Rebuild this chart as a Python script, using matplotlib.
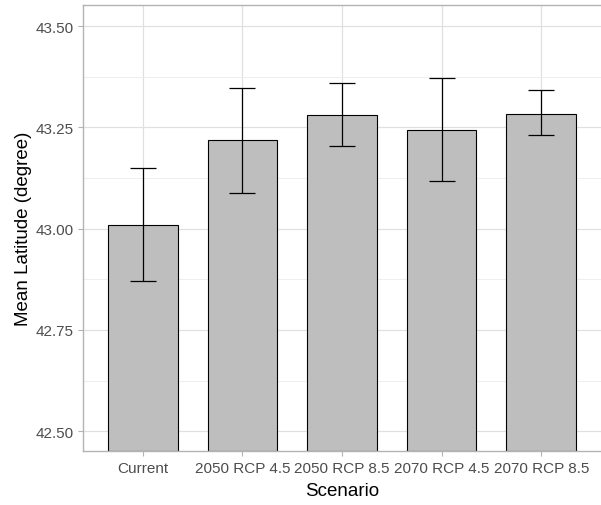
import matplotlib.pyplot as plt
import numpy as np

plt.rcParams['font.family'] = ['Liberation Sans', 'DejaVu Sans']

scenarios = ['Current', '2050 RCP 4.5', '2050 RCP 8.5', '2070 RCP 4.5', '2070 RCP 8.5']
mean_lat = [43.008, 43.218, 43.281, 43.243, 43.284]
err_low = [42.870, 43.087, 43.203, 43.117, 43.231]
err_high = [43.150, 43.347, 43.360, 43.372, 43.342]

mean_lat = np.array(mean_lat)
lo = mean_lat - np.array(err_low)
hi = np.array(err_high) - mean_lat
x = np.arange(1, len(scenarios) + 1)

fig = plt.figure(figsize=(6.01, 5.06), dpi=100)
ax = fig.add_axes([83/601, 1 - 452/506, 518/601, 446/506])

ymin, ymax = 42.451, 43.552
ax.bar(x, mean_lat - ymin, bottom=ymin, width=0.7, color='#BEBEBE',
       edgecolor='black', linewidth=0.8, zorder=2)
ax.errorbar(x, mean_lat, yerr=[lo, hi], fmt='none', ecolor='black',
            elinewidth=0.9, capsize=9.5, capthick=0.9, zorder=3)

ax.set_xlim(0.4, 5.6)
ax.set_ylim(ymin, ymax)
ax.set_xticks(x)
ax.set_xticklabels(scenarios)
ax.set_yticks([42.5, 42.75, 43.0, 43.25, 43.5])
ax.set_yticklabels(['42.50', '42.75', '43.00', '43.25', '43.50'])
ax.set_yticks(np.arange(42.625, 43.55, 0.25), minor=True)

ax.grid(True, which='major', color='#E0E0E0', linewidth=0.9, zorder=0)
ax.grid(True, which='minor', axis='y', color='#EBEBEB', linewidth=0.6, zorder=0)
ax.set_axisbelow(True)

for s in ['left', 'top', 'bottom']:
    ax.spines[s].set_color('#B3B3B3')
    ax.spines[s].set_linewidth(1.0)
ax.spines['right'].set_visible(False)

ax.tick_params(axis='both', which='major', colors='#B3B3B3', length=3.5,
               labelcolor='#4D4D4D', labelsize=11, pad=3)
ax.tick_params(axis='x', which='major', pad=4)
ax.tick_params(axis='y', which='minor', length=0)

ax.set_xlabel('Scenario', fontsize=13.5, labelpad=5)
ax.set_ylabel('Mean Latitude (degree)', fontsize=13.5, labelpad=3)

fig.savefig('out.png', dpi=100)
